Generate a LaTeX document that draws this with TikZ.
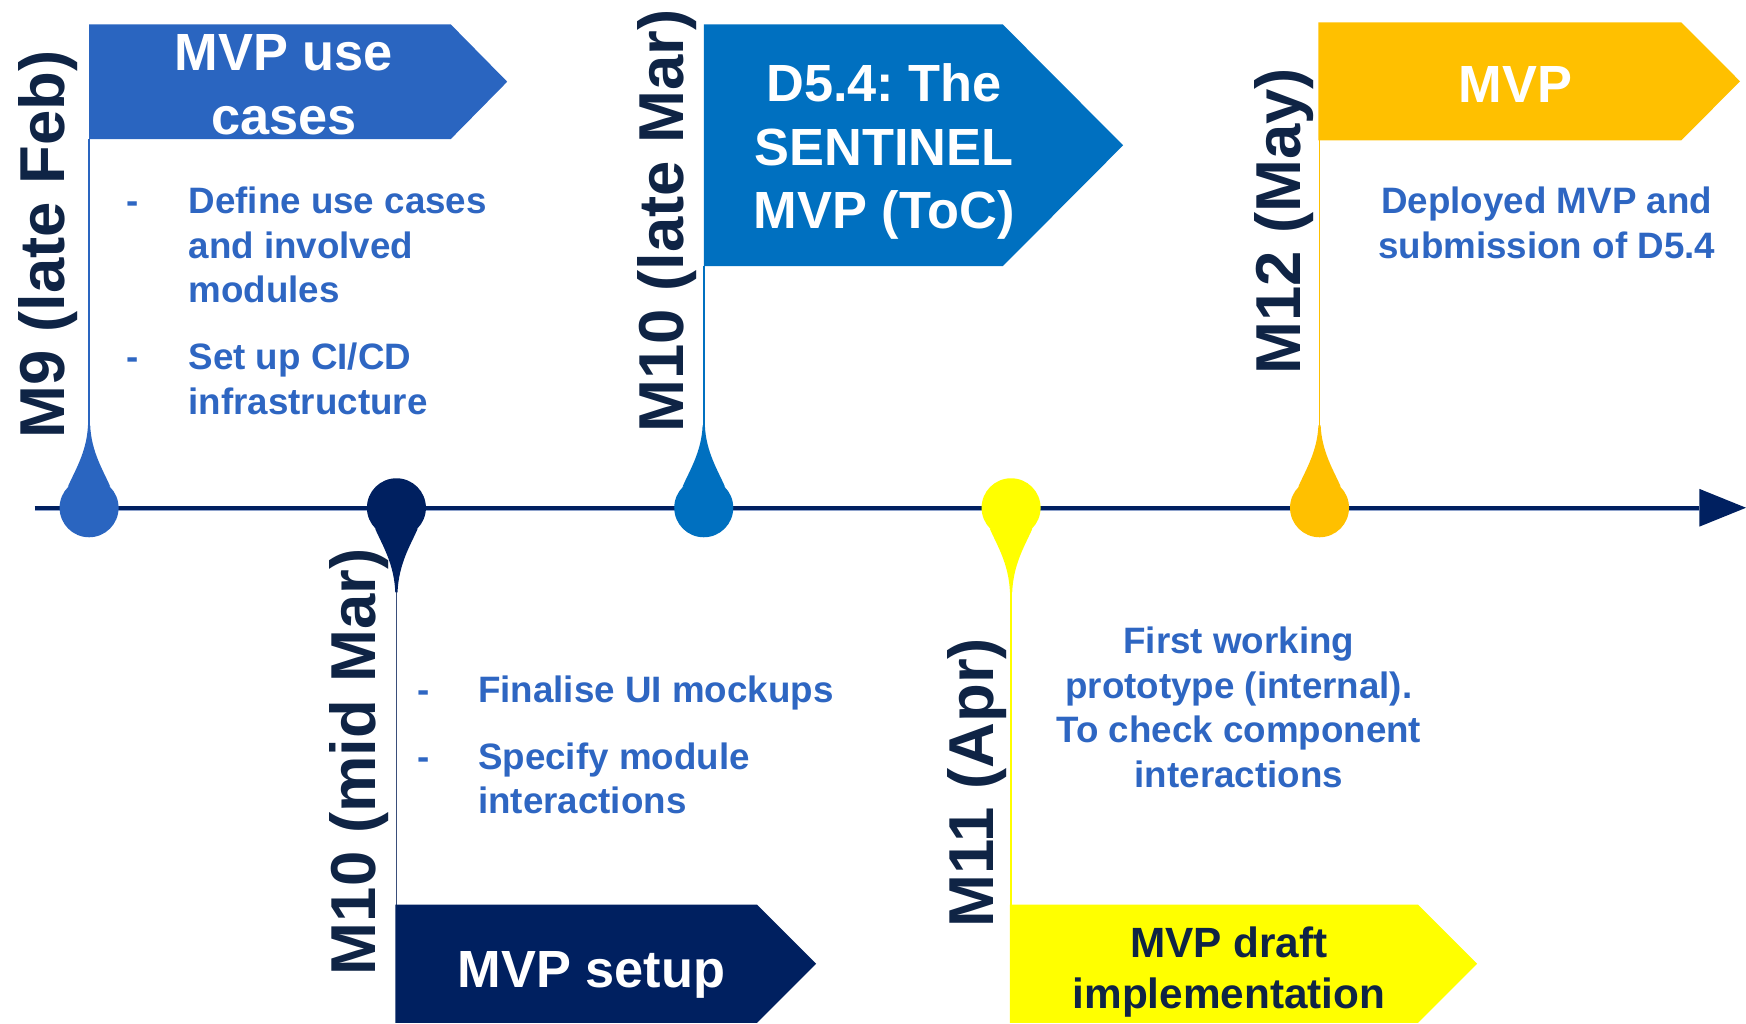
\documentclass[tikz,border=0pt]{standalone}
\usepackage{fontspec}
\setmainfont{Liberation Sans}
\usetikzlibrary{calc}
\frenchspacing
\definecolor{cblue}{HTML}{2A65C0}
\definecolor{cmid}{HTML}{0070C0}
\definecolor{cnavy}{HTML}{002060}
\definecolor{cyel}{HTML}{FFFF00}
\definecolor{cgold}{HTML}{FFC000}
\definecolor{clab}{HTML}{0F2445}
\definecolor{ctext}{HTML}{2E66C2}
\definecolor{caxl}{HTML}{8EA2CC}
\definecolor{cstemnavy}{HTML}{3A4E7A}
\newcommand\mytab[2]{\begin{tabular}[t]{@{}#1@{}}#2\end{tabular}}
\newcommand\mydropup[2]{\begin{scope}[shift={(#1)}]\fill[#2] (0,0) circle (26.5);\fill[#2] (-19,-19) .. controls (-13,-33) and (-2,-50) .. (-1,-74) -- (1,-74) .. controls (2,-50) and (13,-33) .. (19,-19) -- cycle;\end{scope}}
\newcommand\mydropdown[2]{\begin{scope}[shift={(#1)}]\fill[#2] (0,0) circle (26.5);\fill[#2] (-19,19) .. controls (-13,33) and (-2,50) .. (-1,76) -- (1,76) .. controls (2,50) and (13,33) .. (19,19) -- cycle;\end{scope}}
\tikzset{
  lbl/.style={font=\fontsize{28.5}{34}\selectfont\bfseries, text=clab, rotate=90, anchor=base west, inner sep=0pt},
  flagtxt/.style={font=\fontsize{23.5}{28.5}\selectfont\bfseries, text=white, anchor=base, inner sep=0pt},
  body/.style={font=\fontsize{16.5}{20}\selectfont\bfseries, text=ctext, inner sep=0pt},
  stemline/.style={line width=0.8pt},
}
\begin{document}
\begin{tikzpicture}[x=0.5pt,y=-0.5pt]
\useasboundingbox (0,0) rectangle (1568,919);
% axis
\coordinate (axs) at (31,456);
\coordinate (axe) at (1526,456);
\coordinate (axtip) at (1568,456);
\draw[line width=0.5pt, draw=caxl] ($(axs)+(0,2.8)$) -- ($(axe)+(0,2.8)$);
\draw[line width=1.6pt, draw=cnavy] (axs) -- (axe);
\fill[cnavy] (1526,439) -- (axtip) -- (1526,473) -- cycle;

% milestone points
\coordinate (d1) at (80,456);
\coordinate (d2) at (356,456);
\coordinate (d3) at (632,456);
\coordinate (d4) at (908,456);
\coordinate (d5) at (1185,456);

% flag corners
\coordinate (f1) at (80,125);
\coordinate (f2) at (356,812.5);
\coordinate (f3) at (632,239);
\coordinate (f4) at (908,812.5);
\coordinate (f5) at (1185,126);

% stems
\draw[stemline, cblue] ($(d1)+(0,-72)$) -- (f1);
\draw[stemline, cstemnavy] ($(d2)+(0,74)$) -- (f2);
\draw[stemline, cmid] ($(d3)+(0,-72)$) -- (f3);
\draw[stemline, cyel] ($(d4)+(0,74)$) -- (f4);
\draw[stemline, cgold] ($(d5)+(0,-72)$) -- (f5);

% drops
\mydropup{d1}{cblue}
\mydropdown{d2}{cnavy}
\mydropup{d3}{cmid}
\mydropdown{d4}{cyel}
\mydropup{d5}{cgold}

% flags
\fill[cblue] (80,21.8) -- (404.7,21.8) -- (455.5,73.4) -- (404.7,125) -- (80,125) -- cycle;
\fill[cmid] (632,22) -- (900.6,22) -- (1008.6,130.5) -- (900.6,239) -- (632,239) -- cycle;
\fill[cnavy] (355,812.5) -- (680,812.5) -- (733,865.5) -- (680,918.5) -- (355,918.5) -- cycle;
\fill[cyel] (907,812.5) -- (1273.5,812.5) -- (1326.6,865.5) -- (1273.5,918.5) -- (907,918.5) -- cycle;
\fill[cgold] (1184,20.2) -- (1510,20.2) -- (1562.6,73) -- (1510,126) -- (1184,126) -- cycle;

\node[flagtxt] (t1) at (255,63.5) {\mytab{c}{MVP use\\cases}};
\node[flagtxt] (t3) at (794,91.4) {\mytab{c}{D5.4: The\\SENTINEL\\MVP (ToC)}};
\node[flagtxt] (t2) at (531,887) {MVP setup};
\node[flagtxt, font=\fontsize{19}{23}\selectfont\bfseries, text=clab] (t4) at (1103.7,860) {\mytab{c}{MVP draft\\implementation}};
\node[flagtxt] (t5) at (1361,92) {MVP};

% vertical labels
\node[lbl] (l1) at (57.5,394) {M9 (late Feb)};
\node[lbl] (l2) at (336.8,876) {M10 (mid Mar)};
\node[lbl] (l3) at (614,389) {M10 (late Mar)};
\node[lbl] (l4) at (892,833) {M11 (Apr)};
\node[lbl] (l5) at (1168,337) {M12 (May)};

% descriptions
\node[body, anchor=base] (k1a) at (119,192) {-};
\node[body, anchor=base west] (b1a) at (169,192) {\mytab{l}{Define use cases\\and involved\\modules}};
\node[body, anchor=base] (k1b) at (119,332) {-};
\node[body, anchor=base west] (b1b) at (169,332) {\mytab{l}{Set up CI/CD\\infrastructure}};

\node[body, anchor=base] (k2a) at (380,631) {-};
\node[body, anchor=base west] (b2a) at (429,631) {Finalise UI mockups};
\node[body, anchor=base] (k2b) at (380,691) {-};
\node[body, anchor=base west] (b2b) at (429,691) {\mytab{l}{Specify module\\interactions}};

\node[body, anchor=base] (b4) at (1112.5,587) {\mytab{c}{First working\\prototype (internal).\\To check component\\interactions}};
\node[body, anchor=base] (b5) at (1389,192) {\mytab{c}{Deployed MVP and\\submission of D5.4}};
\end{tikzpicture}
\end{document}
